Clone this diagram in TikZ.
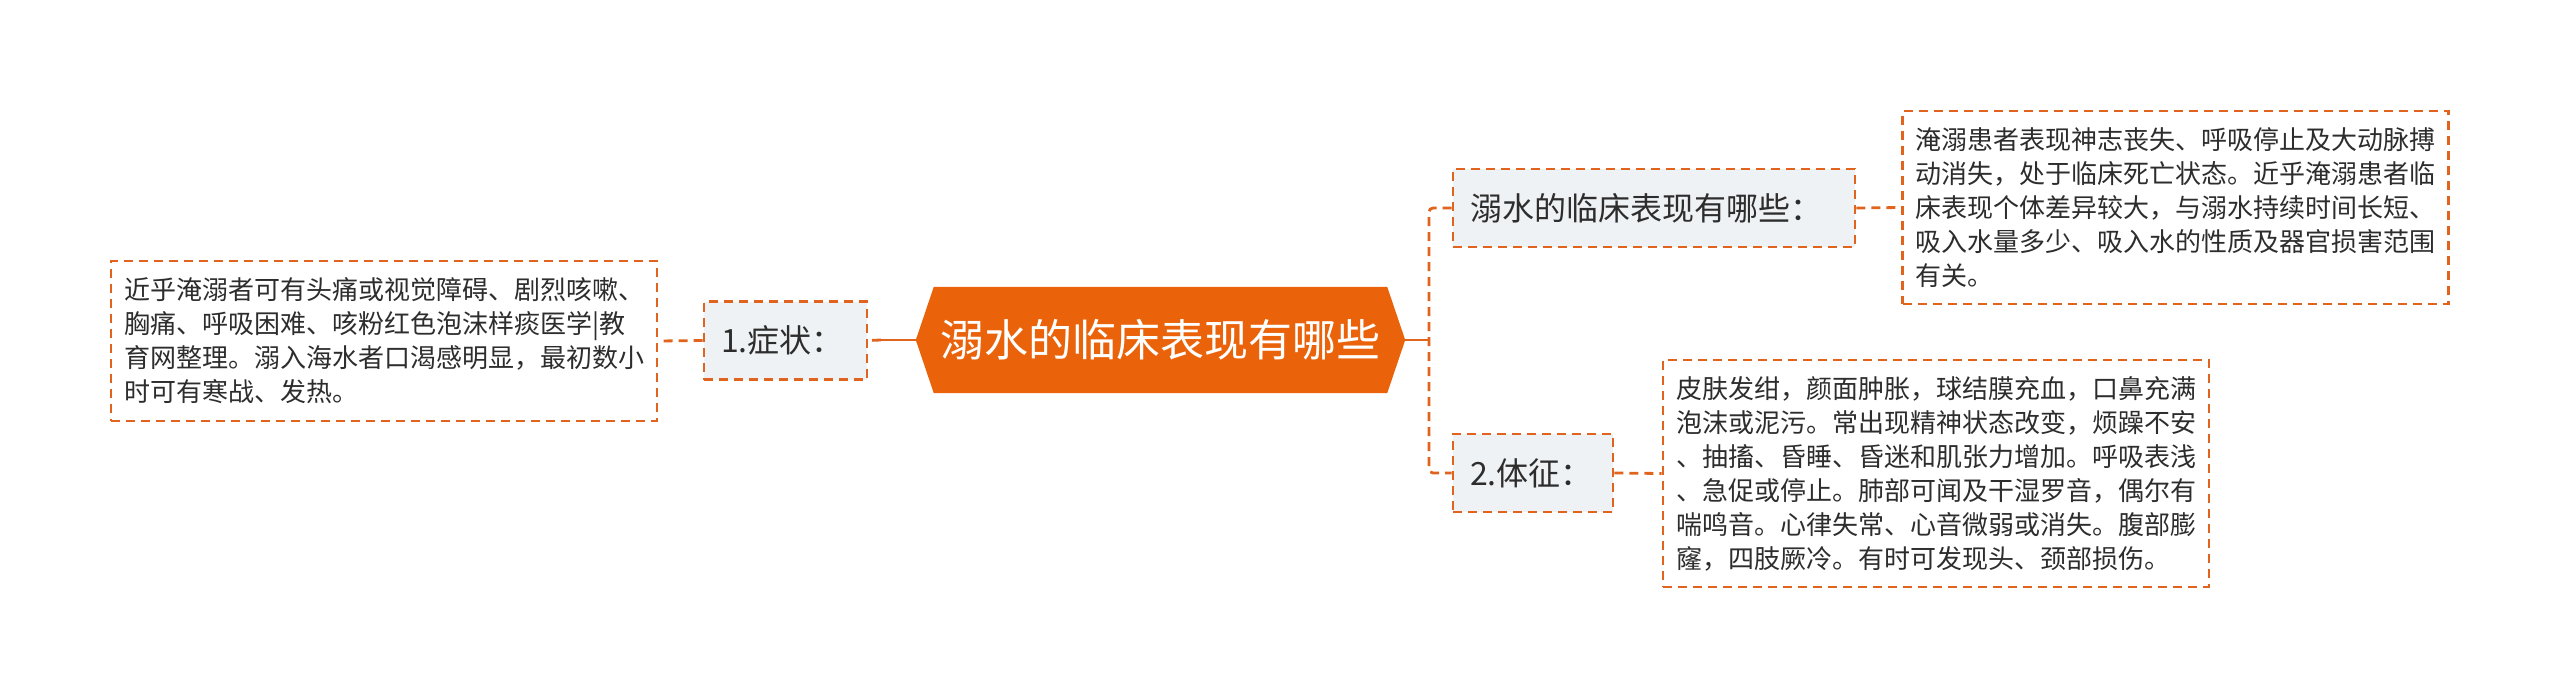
\documentclass[tikz,border=0pt]{standalone}
\usepackage{fontspec}
\setmainfont{Noto Sans CJK SC}
\usetikzlibrary{backgrounds}
\definecolor{hubfill}{RGB}{234,99,10}
\definecolor{linecol}{RGB}{224,99,30}
\definecolor{labfill}{RGB}{239,242,245}
\definecolor{txt}{RGB}{45,45,45}
\tikzset{
  link/.style={draw=linecol, line width=2.8pt},
  dlink/.style={draw=linecol, line width=2.8pt, dash pattern=on 9pt off 6pt, rounded corners=4pt},
  hubnode/.style={inner sep=0pt, minimum width=489pt, minimum height=106pt, text=white,
    font=\fontsize{44pt}{52pt}\selectfont},
  labelbox/.style={draw=linecol, line width=2.6pt, dash pattern=on 9pt off 6pt, fill=labfill,
    inner xsep=17pt, inner ysep=0pt, minimum height=78pt, align=left, text=txt,
    font=\fontsize{32pt}{40pt}\selectfont},
  detailbox/.style={draw=linecol, line width=2.6pt, dash pattern=on 9pt off 6pt, fill=white,
    inner xsep=13pt, inner ysep=0pt, text width=520pt, align=left, text=txt,
    font=\fontsize{26pt}{34pt}\selectfont}
}
\begin{document}
\begin{tikzpicture}[x=1pt, y=-1pt]
\useasboundingbox (0,0) rectangle (2560,698);

% central topic
\node[hubnode] (hub) at (1160.5,340) {溺水的临床表现有哪些};
\begin{scope}[on background layer]
\fill[white] (0,0) rectangle (2560,698);
\fill[hubfill] (hub.west) -- ([xshift=18pt]hub.north west) -- ([xshift=-18pt]hub.north east)
  -- (hub.east) -- ([xshift=-18pt]hub.south east) -- ([xshift=18pt]hub.south west) -- cycle;
\end{scope}

% labels
\node[labelbox, text width=129pt] (s1) at (785.5,340.5) {1.症状：};
\node[labelbox, text width=368pt] (q1) at (1654,208) {溺水的临床表现有哪些：};
\node[labelbox, text width=126pt] (q2) at (1533,473) {2.体征：};

% details
\node[detailbox, minimum height=160pt] (d0) at (384,341) {近乎淹溺者可有头痛或视觉障碍、剧烈咳嗽、\\胸痛、呼吸困难、咳粉红色泡沫样痰医学|教\\育网整理。溺入海水者口渴感明显，最初数小\\时可有寒战、发热。};
\node[detailbox, minimum height=193pt] (d1) at (2175.5,207.5) {淹溺患者表现神志丧失、呼吸停止及大动脉搏\\动消失，处于临床死亡状态。近乎淹溺患者临\\床表现个体差异较大，与溺水持续时间长短、\\吸入水量多少、吸入水的性质及器官损害范围\\有关。};
\node[detailbox, minimum height=227pt] (d2) at (1936,473.5) {皮肤发绀，颜面肿胀，球结膜充血，口鼻充满\\泡沫或泥污。常出现精神状态改变，烦躁不安\\、抽搐、昏睡、昏迷和肌张力增加。呼吸表浅\\、急促或停止。肺部可闻及干湿罗音，偶尔有\\喘鸣音。心律失常、心音微弱或消失。腹部膨\\窿，四肢厥冷。有时可发现头、颈部损伤。};

% connectors
\coordinate (jr) at (1429,340);
\coordinate (jl) at (881,340);
\draw[link] (hub.east) -- (jr);
\draw[dlink] (q1.west) -- (q1.west -| jr) -- (q2.west -| jr) -- (q2.west);
\draw[link] (hub.west) -- (jl);
\draw[dlink] (jl) -- (s1.east);
\draw[dlink] (s1.west) -- (d0.east);
\draw[dlink] (q1.east) -- (d1.west);
\draw[dlink] (q2.east) -- (d2.west);
\end{tikzpicture}
\end{document}
